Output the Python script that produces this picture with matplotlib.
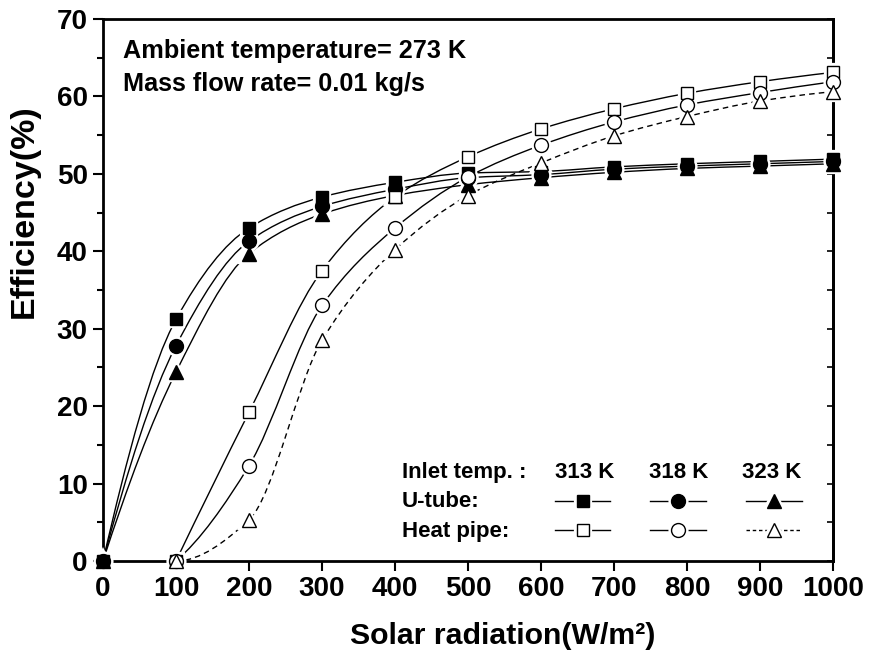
import numpy as np
import matplotlib
matplotlib.use("Agg")
import matplotlib.pyplot as plt
from matplotlib.path import Path
from matplotlib.patches import PathPatch
from matplotlib.lines import Line2D
from matplotlib.legend_handler import HandlerTuple

plt.rcParams['font.family'] = ['Liberation Sans', 'DejaVu Sans']
plt.rcParams['font.weight'] = 'bold'

# valeurs
radiation_u = [0, 100, 200, 300, 400, 500, 600, 700, 800, 900, 1000]
u_313 = [0, 31.2, 43.0, 47.0, 48.9, 50.1, 50.3, 50.9, 51.3, 51.6, 51.9]
u_318 = [0, 27.8, 41.3, 45.8, 48.0, 49.5, 49.9, 50.6, 51.0, 51.3, 51.6]
u_323 = [0, 24.4, 39.7, 44.8, 47.2, 48.6, 49.5, 50.2, 50.7, 51.0, 51.3]

radiation_hp = [100, 200, 300, 400, 500, 600, 700, 800, 900, 1000]
hp_313 = [0, 19.2, 37.5, 47.0, 52.2, 55.8, 58.4, 60.4, 61.9, 63.1]
hp_318 = [0, 12.3, 33.0, 43.0, 49.6, 53.7, 56.7, 58.9, 60.5, 61.9]
hp_323 = [0, 5.3, 28.5, 40.2, 47.2, 51.4, 54.9, 57.4, 59.4, 60.6]

inlet_labels = ['313 K', '318 K', '323 K']
row_labels = ['U-tube:', 'Heat pipe:']


def pchip_slopes(x, y):
    """Pentes de Hermite monotones (type PCHIP) aux points de donnees."""
    x = np.asarray(x, float)
    y = np.asarray(y, float)
    h = np.diff(x)
    d = np.diff(y) / h
    m = np.zeros_like(y)
    for k in range(1, len(y) - 1):
        if d[k - 1] * d[k] > 0:
            w1 = 2 * h[k] + h[k - 1]
            w2 = h[k] + 2 * h[k - 1]
            m[k] = (w1 + w2) / (w1 / d[k - 1] + w2 / d[k])

    def end_slope(h0, h1, d0, d1):
        s = ((2 * h0 + h1) * d0 - h0 * d1) / (h0 + h1)
        if np.sign(s) != np.sign(d0):
            s = 0.0
        elif np.sign(d0) != np.sign(d1) and abs(s) > 3 * abs(d0):
            s = 3 * d0
        return s

    m[0] = end_slope(h[0], h[1], d[0], d[1])
    m[-1] = end_slope(h[-1], h[-2], d[-1], d[-2])
    return m


def smooth_curve(ax, x, y, linestyle):
    """Courbe lisse (Bezier cubiques) passant par les points."""
    m = pchip_slopes(x, y)
    verts = [(x[0], y[0])]
    codes = [Path.MOVETO]
    for i in range(len(x) - 1):
        h = x[i + 1] - x[i]
        verts += [(x[i] + h / 3, y[i] + m[i] * h / 3),
                  (x[i + 1] - h / 3, y[i + 1] - m[i + 1] * h / 3),
                  (x[i + 1], y[i + 1])]
        codes += [Path.CURVE4] * 3
    patch = PathPatch(Path(verts, codes), fill=False, edgecolor='black',
                      linewidth=1.0, linestyle=linestyle, zorder=2)
    ax.add_patch(patch)


fig = plt.figure(figsize=(8.75, 6.66), dpi=100)
ax = fig.add_axes([0.1177, 0.1577, 0.8343, 0.8138])

# (x, y, marqueur, remplissage, style de ligne, taille)
series = [
    (radiation_u, u_313, 's', 'black', '-', 8.5),
    (radiation_u, u_318, 'o', 'black', '-', 10),
    (radiation_u, u_323, '^', 'black', '-', 10),
    (radiation_hp, hp_313, 's', 'white', '-', 8.5),
    (radiation_hp, hp_318, 'o', 'white', '-', 10),
    (radiation_hp, hp_323, '^', 'white', (0, (4, 3)), 10),
]

handles = []
for x, y, mk, fc, ls, ms in series:
    smooth_curve(ax, x, y, ls)
    # halo blanc pour couper la ligne autour du marqueur
    ax.plot(x, y, linestyle='none', marker=mk, markersize=ms,
            markerfacecolor='white', markeredgecolor='white',
            markeredgewidth=4.5, zorder=3, clip_on=False)
    ax.plot(x, y, linestyle='none', marker=mk, markersize=ms,
            markerfacecolor=fc, markeredgecolor='black',
            markeredgewidth=1.0, zorder=4, clip_on=False)
    line_h = Line2D([0], [1], color='black', linewidth=1.0,
                    linestyle=ls if ls == '-' else (0, (2.5, 2)))
    halo_h = Line2D([0], [1], linestyle='none', marker=mk, markersize=ms,
                    markerfacecolor='white', markeredgecolor='white',
                    markeredgewidth=4.5)
    mark_h = Line2D([0], [1], linestyle='none', marker=mk, markersize=ms,
                    markerfacecolor=fc, markeredgecolor='black',
                    markeredgewidth=1.0)
    handles.append((line_h, halo_h, mark_h))

ax.set_xlim(0, 1000)
ax.set_ylim(0, 70)
ax.set_xticks(np.arange(0, 1001, 100))
ax.set_yticks(np.arange(0, 71, 10))
ax.set_yticks(np.arange(0, 71, 5), minor=True)

for s in ax.spines.values():
    s.set_linewidth(2.0)

ax.tick_params(axis='both', which='major', direction='out', length=7,
               width=1.5, labelsize=20, pad=4)
ax.tick_params(axis='y', which='minor', direction='out', length=4.5, width=1.5)
for lab in ax.get_xticklabels() + ax.get_yticklabels():
    lab.set_fontweight('bold')

right = ax.secondary_yaxis('right')
right.set_yticks(np.arange(0, 71, 5))
right.tick_params(direction='in', length=4, width=1.2, labelright=False)
right.spines['right'].set_linewidth(2.0)

ax.set_xlabel('Solar radiation(W/m\u00b2)', fontsize=21.8, fontweight='bold')
ax.xaxis.set_label_coords(0.548, -0.113)
ax.set_ylabel('Efficiency(%)', fontsize=24.5, fontweight='bold')
ax.yaxis.set_label_coords(-0.0863, 0.646)

ax.text(0.028, 0.928, 'Ambient temperature= 273 K', transform=ax.transAxes,
        fontsize=18.2, fontweight='bold', va='baseline', ha='left')
ax.text(0.028, 0.867, 'Mass flow rate= 0.01 kg/s', transform=ax.transAxes,
        fontsize=18.2, fontweight='bold', va='baseline', ha='left')

# en-tetes et libelles de la legende
ax.text(0.4096, 0.153, 'Inlet temp. :', transform=ax.transAxes,
        fontsize=16, fontweight='bold', va='baseline', ha='left')
for xc, lab in zip([0.660, 0.788, 0.916], inlet_labels):
    ax.text(xc, 0.153, lab, transform=ax.transAxes,
            fontsize=16, fontweight='bold', va='baseline', ha='center')
for yb, lab in zip([0.0996, 0.0443], row_labels):
    ax.text(0.4096, yb, lab, transform=ax.transAxes,
            fontsize=16, fontweight='bold', va='baseline', ha='left')

# ordre par colonne (ncol=3): U-tube / Heat pipe pour chaque temperature
order = [0, 3, 1, 4, 2, 5]
leg_handles = [handles[i] for i in order]
leg = ax.legend(leg_handles, [''] * 6, ncol=3,
                handler_map={tuple: HandlerTuple(ndivide=1, pad=0)},
                loc='upper left', bbox_to_anchor=(0.619, 0.127),
                frameon=False, borderpad=0, borderaxespad=0,
                handlelength=2.5, handleheight=1.0, handletextpad=0,
                columnspacing=1.8, labelspacing=0.3,
                prop={'size': 16, 'weight': 'bold'})

fig.savefig('out.png', dpi=100)
